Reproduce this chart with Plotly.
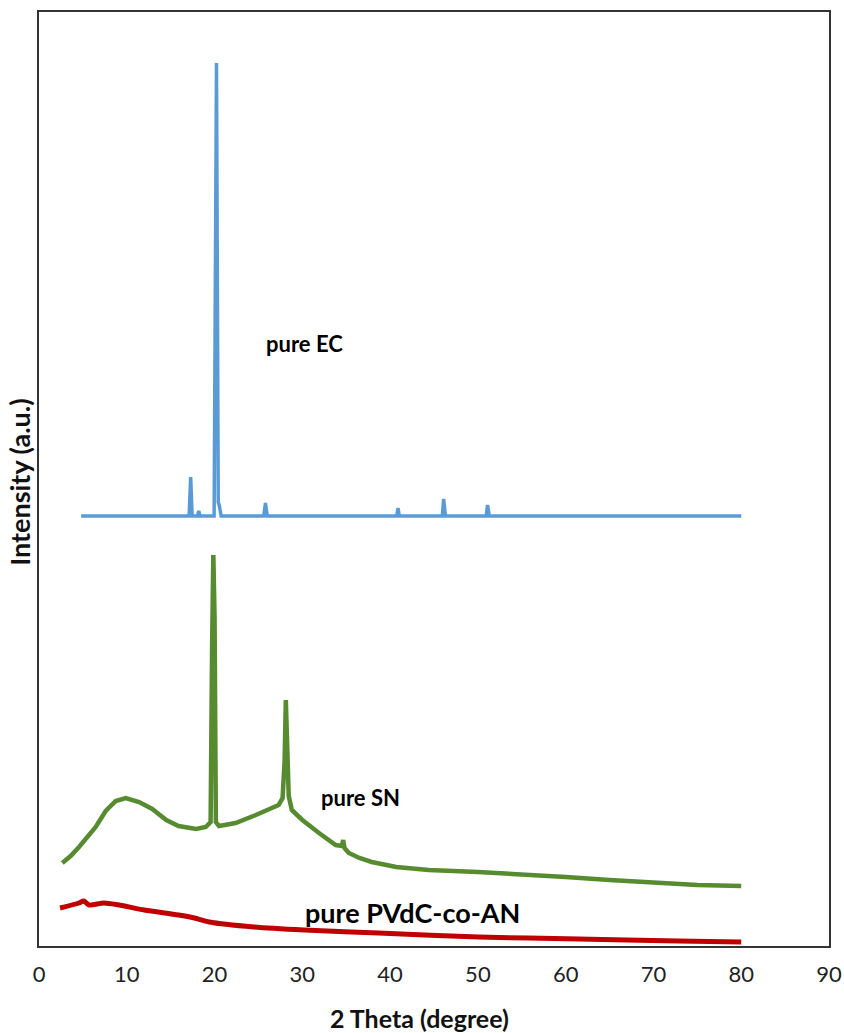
import plotly.graph_objects as go

# 2 Theta (degree) / intensity (a.u., offset stacked)
ec_x = [4.8, 17.1, 17.28, 17.45, 18.05, 18.2, 18.35, 19.95, 20.22, 20.42, 20.55, 20.75,
        25.6, 25.8, 26.0, 40.75, 40.9, 41.05, 45.95, 46.1, 46.3, 50.95, 51.1, 51.3, 80.0]
ec_y = [430, 430, 469, 430, 430, 435, 430, 430, 883, 444, 440, 430,
        430, 443, 430, 430, 438, 430, 430, 447, 430, 430, 441, 430, 430]

sn_x = [2.65, 3.6, 4.56, 5.5, 6.46, 7.6, 8.74, 9.88, 11.4, 12.9, 14.5, 15.9, 17.9, 19.0, 19.55,
        19.72, 19.86, 20.0, 20.15, 20.5, 22.4, 24.7, 27.3, 27.75, 27.98, 28.12, 28.28,
        28.45, 28.8, 30.0, 31.9, 33.8, 34.5, 34.65, 34.8, 35.3, 36.5, 37.9, 40.7, 44.4,
        50, 55, 60, 65, 70, 75, 80]
sn_y = [83, 90, 99, 109, 119, 135, 145, 148, 144, 137, 126, 120, 117, 119, 124,
        300, 391, 330, 124, 120, 123, 131, 141, 148, 185, 246, 200,
        150, 136, 126, 113, 101, 100, 106, 98, 93, 88, 84, 79, 76,
        74, 72, 69, 66, 63, 61, 60]

pv_x = [2.4, 4.56, 5.1, 5.7, 7.4, 9.1, 12.0, 15.9, 17.7, 19.4, 24.5, 30.2, 38.7, 50.1,
        61.5, 72.9, 80.0]
pv_y = [38, 43, 45, 41, 43, 41, 36, 31, 28, 24, 19, 16, 13, 9, 7, 5, 4]

labels = ["pure EC", "pure SN", "pure PVdC-co-AN"]
label_x = [30.3, 36.6, 42.6]
label_y = [603, 149, 34]

fig = go.Figure()
fig.add_trace(go.Scatter(x=ec_x, y=ec_y, mode="lines", line=dict(color="#5B9BD5", width=3.5),
                         name=labels[0]))
fig.add_trace(go.Scatter(x=sn_x, y=sn_y, mode="lines", line=dict(color="#578B30", width=4.5),
                         name=labels[1]))
fig.add_trace(go.Scatter(x=pv_x, y=pv_y, mode="lines",
                         line=dict(color="#C00000", width=5, shape="spline", smoothing=0.8),
                         name=labels[2]))

sizes = [22, 22, 27]
for t, x, y, s in zip(labels, label_x, label_y, sizes):
    fig.add_annotation(x=x, y=y, text="<b>%s</b>" % t, showarrow=False,
                       xanchor="center", yanchor="middle",
                       font=dict(family="Lato", size=s, color="#000000"))

# axis titles
fig.add_annotation(x=0.482, y=-0.077, xref="paper", yref="paper", showarrow=False,
                   xanchor="center", yanchor="middle",
                   text="<b>2 Theta (degree)</b>", font=dict(family="Lato", size=25, color="#111111"))
fig.add_annotation(x=-0.024, y=0.496, xref="paper", yref="paper", showarrow=False,
                   xanchor="center", yanchor="middle",
                   textangle=-90, text="<b>Intensity (a.u.)</b>",
                   font=dict(family="Lato", size=27, color="#111111"))

fig.update_layout(
    width=844, height=1033, autosize=False,
    margin=dict(l=39, r=15, t=12, b=87),
    paper_bgcolor="white", plot_bgcolor="white",
    showlegend=False,
    font=dict(family="Lato", color="#222222"),
)
fig.update_xaxes(range=[0, 90], tick0=0, dtick=10, showgrid=False, zeroline=False,
                 showline=True, linecolor="#333333", linewidth=1.5, mirror=True,
                 ticks="", tickfont=dict(size=22, color="#222222"), automargin=False,
                 ticklabelstandoff=8)
fig.update_yaxes(range=[0, 934], showgrid=False, zeroline=False, showticklabels=False,
                 showline=True, linecolor="#333333", linewidth=1.5, mirror=True, ticks="",
                 automargin=False)

fig.write_html("out.html")
